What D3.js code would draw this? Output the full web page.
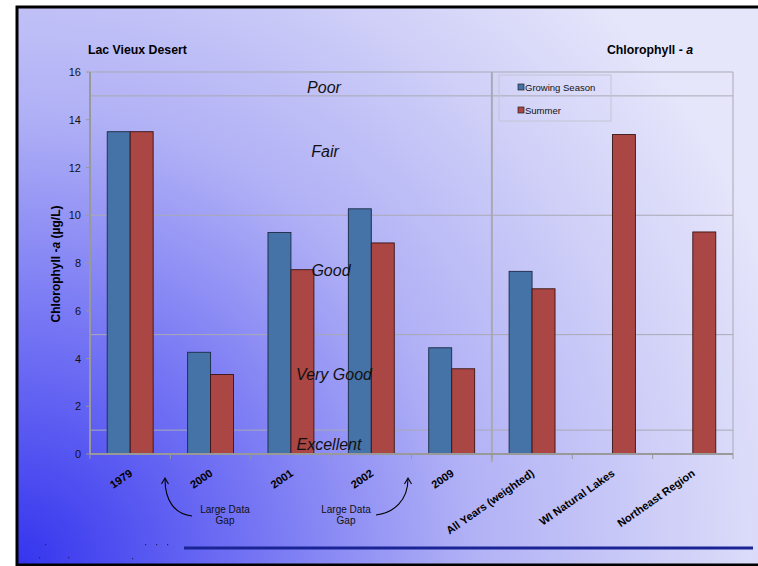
<!DOCTYPE html>
<html><head><meta charset="utf-8">
<script src="https://cdn.jsdelivr.net/npm/d3@7"></script>
<style>
html,body{margin:0;padding:0;background:#fff;}
svg{display:block;font-family:"Liberation Sans",Arial,sans-serif;}
</style></head>
<body>
<svg id="chart" width="758" height="566"></svg>
<script>
const categories = ["1979","2000","2001","2002","2009","All Years (weighted)","WI Natural Lakes","Northeast Region"];
const growingSeason = [13.5, 4.26, 9.28, 10.27, 4.45, 7.65, null, null];
const summer = [13.5, 3.33, 7.72, 8.84, 3.57, 6.92, 13.38, 9.3];
const seriesNames = ["Growing Season","Summer"];
const yTicks = [0,2,4,6,8,10,12,14,16];
const thresholds = [1,5,10,15];
const zoneLabels = [
  {name:"Poor", v:15.12},
  {name:"Fair", v:12.44},
  {name:"Good", v:7.46},
  {name:"Very Good", v:3.1},
  {name:"Excellent", v:0.17}
];
const zoneX = [324, 325, 331, 334, 329];
const colors = ["#4572A7","#AA4643"];

const svg = d3.select("#chart");
const W=758,H=566;
const m = {left:90, right:733, top:72, bottom:454};

// background gradient
const defs = svg.append("defs");
const rg = defs.append("radialGradient").attr("id","bg")
  .attr("gradientUnits","userSpaceOnUse").attr("cx",17).attr("cy",566).attr("r",820)
  .attr("fx",17).attr("fy",566);
rg.append("stop").attr("offset","0").attr("stop-color","#3434ee");
rg.append("stop").attr("offset","0.28").attr("stop-color","#7272f4");
rg.append("stop").attr("offset","0.55").attr("stop-color","#b0b0f6");
rg.append("stop").attr("offset","0.8").attr("stop-color","#d0d0f8");
rg.append("stop").attr("offset","1").attr("stop-color","#e6e6fb");

svg.append("rect").attr("x",17).attr("y",7).attr("width",W+10).attr("height",H-7+10)
  .attr("fill","url(#bg)");
svg.append("path").attr("d",`M${W+5},7 L17,7 L17,565 L${W+5},565`)
  .attr("fill","none").attr("stroke","#000").attr("stroke-width",3);

const x0 = d3.scaleBand().domain(categories).range([m.left,m.right]).padding(0);
const x1 = d3.scaleBand().domain(seriesNames).range([0,x0.bandwidth()]).paddingInner(0).paddingOuter(0.75);
const y = d3.scaleLinear().domain([0,16]).range([m.bottom,m.top]);

// threshold gridlines
svg.append("g").selectAll("line").data(thresholds).join("line")
  .attr("x1",m.left).attr("x2",m.right).attr("y1",d=>y(d)).attr("y2",d=>y(d))
  .attr("stroke","#a9a9b4").attr("stroke-width",1);
// plot border top/right
svg.append("path").attr("d",`M${m.left},${y(16)} L${m.right},${y(16)} L${m.right},${y(0)}`)
  .attr("fill","none").attr("stroke","#a9a9b4").attr("stroke-width",1);
// divider
const divX = x0(categories[5]);
svg.append("line").attr("x1",divX).attr("x2",divX).attr("y1",y(16)).attr("y2",y(0)+8)
  .attr("stroke","#a9a9b4").attr("stroke-width",2);

// bars
const data = categories.map((c,i)=>({cat:c, vals:[growingSeason[i], summer[i]]}));
const gb = svg.append("g");
data.forEach(d=>{
  d.vals.forEach((v,j)=>{
    if(v==null) return;
    gb.append("rect")
      .attr("x",x0(d.cat)+x1(seriesNames[j]))
      .attr("y",y(v)).attr("width",x1.bandwidth()).attr("height",y(0)-y(v))
      .attr("fill",colors[j]).attr("stroke",j===0?"#1b2a44":"#3a1414").attr("stroke-width",0.9);
  });
});

// zone labels (on top of bars)
svg.append("g").selectAll("text").data(zoneLabels).join("text")
  .attr("x",(d,i)=>zoneX[i]).attr("y",d=>y(d.v))
  .attr("text-anchor","middle").attr("font-style","italic").attr("font-size",16)
  .attr("fill","#111").text(d=>d.name);

// y axis
const ga = svg.append("g");
ga.append("line").attr("x1",m.left).attr("x2",m.left).attr("y1",y(16)).attr("y2",y(0))
  .attr("stroke","#999").attr("stroke-width",2);
ga.selectAll(".yt").data(yTicks).join("line").attr("class","yt")
  .attr("x1",m.left-4).attr("x2",m.left).attr("y1",d=>y(d)).attr("y2",d=>y(d))
  .attr("stroke","#999").attr("stroke-width",1);
ga.selectAll(".yl").data(yTicks).join("text").attr("class","yl")
  .attr("x",m.left-9).attr("y",d=>y(d)+4).attr("text-anchor","end")
  .attr("font-size",11).attr("fill","#111").text(d=>d);
// x axis
ga.append("line").attr("x1",m.left).attr("x2",m.right).attr("y1",y(0)).attr("y2",y(0))
  .attr("stroke","#999").attr("stroke-width",2);
const bounds = categories.map(c=>x0(c)).concat([m.right]);
ga.selectAll(".xt").data(bounds).join("line").attr("class","xt")
  .attr("x1",d=>d).attr("x2",d=>d).attr("y1",y(0)).attr("y2",y(0)+5)
  .attr("stroke","#999").attr("stroke-width",1);
ga.selectAll(".xl").data(categories).join("text").attr("class","xl")
  .attr("transform",d=>`translate(${x0(d)+x0.bandwidth()/2+3},${y(0)+21}) rotate(-35)`)
  .attr("text-anchor","end").attr("font-size",11).attr("font-weight","bold").attr("fill","#000")
  .text(d=>d);

// y axis title
const yt = svg.append("text").attr("transform",`translate(60,264) rotate(-90)`)
  .attr("text-anchor","middle").attr("font-size",12).attr("font-weight","bold").attr("fill","#000");
yt.append("tspan").text("Chlorophyll -");
yt.append("tspan").attr("font-style","italic").text("a");
yt.append("tspan").text(" (µg/L)");

// titles
svg.append("text").attr("x",88).attr("y",54).attr("font-size",12.3).attr("font-weight","bold").attr("fill","#000").text("Lac Vieux Desert");
const t2 = svg.append("text").attr("x",693).attr("y",54).attr("text-anchor","end").attr("font-size",12.3).attr("font-weight","bold").attr("fill","#000");
t2.append("tspan").text("Chlorophyll - ");
t2.append("tspan").attr("font-style","italic").text("a");

// legend
const lg = svg.append("g");
lg.append("rect").attr("x",499).attr("y",75).attr("width",112).attr("height",46)
  .attr("fill","none").attr("stroke","#c4c4d4").attr("stroke-width",1);
seriesNames.forEach((s,i)=>{
  const cy = 87 + i*23;
  lg.append("rect").attr("x",518).attr("y",cy-3).attr("width",6).attr("height",6)
    .attr("fill",colors[i]).attr("stroke","#222").attr("stroke-width",0.7);
  lg.append("text").attr("x",525).attr("y",cy+3.5).attr("font-size",9.5).attr("fill","#111").text(s);
});

// annotations
const notes = [{cx:225},{cx:346}];
notes.forEach(n=>{
  const t = svg.append("text").attr("text-anchor","middle").attr("font-size",10).attr("fill","#111");
  t.append("tspan").attr("x",n.cx).attr("y",513).text("Large Data");
  t.append("tspan").attr("x",n.cx).attr("y",524).text("Gap");
});
const arrows = [
  {d:"M192,516 C174,514 165,500 165,479", tip:[165,478]},
  {d:"M376,515 C394,513 408,500 408,479", tip:[408,478]}
];
arrows.forEach(a=>{
  svg.append("path").attr("d",a.d).attr("fill","none").attr("stroke","#000").attr("stroke-width",1.1);
  const [tx,ty]=a.tip;
  svg.append("path").attr("d",`M${tx-3.5},${ty+6} L${tx},${ty} L${tx+3.5},${ty+6}`)
    .attr("fill","none").attr("stroke","#000").attr("stroke-width",1.1);
});

// bottom line
svg.append("line").attr("x1",184).attr("x2",753).attr("y1",548).attr("y2",548)
  .attr("stroke","#1a2494").attr("stroke-width",3);
// specks
const specks = [[45,544],[39,557],[68,557],[145,544],[156,544],[167,544],[132,558]];
svg.append("g").selectAll("rect").data(specks).join("rect")
  .attr("x",d=>d[0]).attr("y",d=>d[1]).attr("width",1.2).attr("height",1.2).attr("fill","#22226a");
</script>
</body></html>
